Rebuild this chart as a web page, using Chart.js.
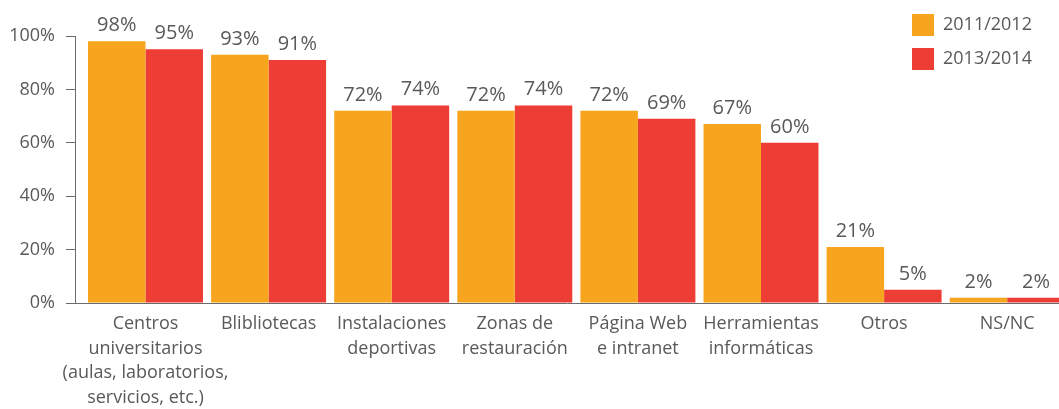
<!DOCTYPE html>
<html>
<head>
<meta charset="utf-8">
<script src="https://cdn.jsdelivr.net/npm/chart.js@4/dist/chart.umd.min.js"></script>
<style>
  html, body { margin: 0; padding: 0; background: #fff; overflow: hidden; }
  #wrap { width: 1059px; height: 409px; }
</style>
</head>
<body>
<div id="wrap"><canvas id="chart" width="1059" height="409"></canvas></div>
<script>
// Categories (multi-line labels as arrays)
const categories = [
  ['Centros', 'universitarios', '(aulas, laboratorios,', 'servicios, etc.)'],
  'Blibliotecas',
  ['Instalaciones', 'deportivas'],
  ['Zonas de', 'restauración'],
  ['Página Web', 'e intranet'],
  ['Herramientas', 'informáticas'],
  'Otros',
  'NS/NC'
];
const seriesNames = ['2011/2012', '2013/2014'];
const values2011 = [98, 93, 72, 72, 72, 67, 21, 2];
const values2013 = [95, 91, 74, 74, 69, 60, 5, 2];
const yTickValues = [0, 20, 40, 60, 80, 100];

const ORANGE = '#F7A51E';
const RED = '#EE3D34';
const TEXT = '#58595b';
const AXIS = '#6b6b6b';
const FONT = "'Open Sans', sans-serif";

Chart.defaults.font.family = FONT;
Chart.defaults.font.size = 18;
Chart.defaults.color = TEXT;

const toPoints = vals => vals.map((v, i) => ({ x: i, y: v }));

// Percent labels above every bar
const valueLabels = {
  id: 'valueLabels',
  afterDatasetsDraw(chart) {
    const ctx = chart.ctx;
    ctx.save();
    ctx.font = `20px ${FONT}`;
    ctx.fillStyle = TEXT;
    ctx.textAlign = 'center';
    ctx.textBaseline = 'alphabetic';
    chart.data.datasets.forEach((ds, di) => {
      const meta = chart.getDatasetMeta(di);
      meta.data.forEach((bar, i) => {
        ctx.fillText(ds.data[i].y + '%', bar.x, bar.y - 10);
      });
    });
    ctx.restore();
  }
};

// Place the legend in the top-right corner, stacked vertically
const legendCorner = {
  id: 'legendCorner',
  afterLayout(chart) {
    const lg = chart.legend;
    if (!lg) return;
    lg.left = 900; lg.top = 2;
    lg.width = 159; lg.height = 90;
    lg.right = lg.left + lg.width; lg.bottom = lg.top + lg.height;
  }
};

new Chart(document.getElementById('chart'), {
  type: 'bar',
  data: {
    datasets: [
      { label: seriesNames[0], data: toPoints(values2011), backgroundColor: ORANGE, borderColor: ORANGE, borderWidth: 0 },
      { label: seriesNames[1], data: toPoints(values2013), backgroundColor: RED, borderColor: RED, borderWidth: 0 }
    ]
  },
  options: {
    responsive: false,
    animation: false,
    devicePixelRatio: 1,
    categoryPercentage: 0.934,
    barPercentage: 1,
    layout: { padding: { top: 36, right: 0, bottom: 0, left: 0 } },
    plugins: {
      tooltip: { enabled: false },
      legend: {
        position: 'chartArea',
        align: 'start',
        labels: {
          boxWidth: 22, boxHeight: 22, padding: 12,
          color: TEXT, font: { size: 18, family: FONT }
        }
      }
    },
    scales: {
      x: {
        type: 'linear',
        offset: false,
        bounds: 'data',
        min: -0.5727,
        max: 7.4208,
        afterBuildTicks(scale) { scale.ticks = categories.map((_, i) => ({ value: i })); },
        grid: { display: false, drawTicks: false, offset: false },
        border: { display: true, color: AXIS, width: 1 },
        ticks: {
          autoSkip: false,
          maxRotation: 0,
          minRotation: 0,
          padding: 9,
          color: TEXT,
          font: { size: 18, family: FONT, lineHeight: 1.36 },
          callback: (v, i) => categories[Math.round(v)]
        },
        afterFit(scale) { scale.height = 106; }
      },
      y: {
        min: 0,
        max: 100,
        afterBuildTicks(scale) { scale.ticks = yTickValues.map(v => ({ value: v })); },
        grid: { display: true, drawOnChartArea: false, drawTicks: true, tickLength: 9, color: AXIS, lineWidth: 1 },
        border: { display: true, color: AXIS, width: 1 },
        ticks: {
          padding: 11,
          color: TEXT,
          font: { size: 18, family: FONT },
          callback: v => v + '%'
        },
        afterFit(scale) { scale.width = 75; }
      }
    }
  },
  plugins: [valueLabels, legendCorner]
});
</script>
</body>
</html>
